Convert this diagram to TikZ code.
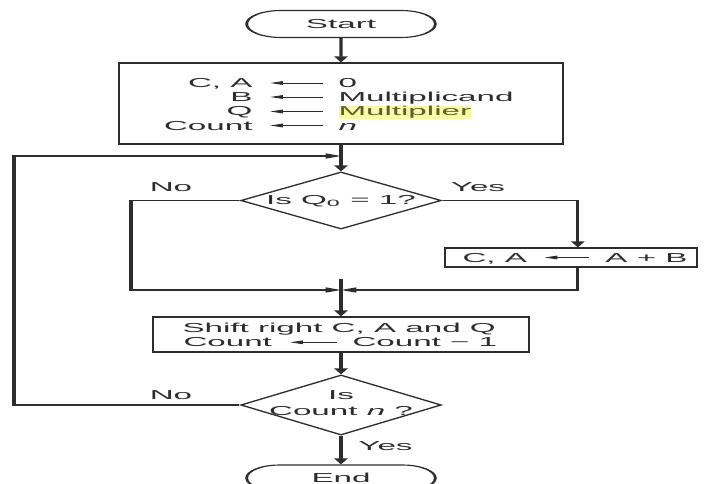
\documentclass[tikz,border=0pt]{standalone}
\usepackage{fontspec}
\setmainfont{Liberation Sans}
\usetikzlibrary{shapes.misc,shapes.geometric,arrows.meta}
\definecolor{ink}{RGB}{45,45,45}
\definecolor{hl}{RGB}{250,250,165}
\definecolor{hltext}{RGB}{95,95,35}
\tikzset{
  txt/.style={inner sep=0pt, text=ink, font=\fontsize{13}{14.5}\selectfont},
  flow/.style={draw=ink, line width=1.2pt},
  arr/.style={flow, -{Triangle[length=6pt,width=5pt]}},
  tarr/.style={draw=ink, line width=0.9pt, -{Triangle[length=5pt,width=3.6pt]}},
  terminal/.style={rounded rectangle, draw=ink, line width=1.1pt, minimum width=74pt, minimum height=27pt, inner sep=0pt, txt},
  procbox/.style={rectangle, draw=ink, line width=1.1pt, inner sep=0pt},
  decision/.style={diamond, draw=ink, line width=1.1pt, inner sep=0pt, minimum width=78.8pt, minimum height=57pt}
}
\begin{document}
\begin{tikzpicture}
\useasboundingbox[fill=white] (0pt,0pt) rectangle (706pt,-484pt);
\begin{scope}[x=0.392157pt, y=-1pt, transform canvas={xscale=2.55}]
% start
\node[terminal] (start) at (341,24) {Start};
% init box
\node[procbox, minimum width=174.1pt, minimum height=81pt] (init) at (341,103.5) {};
\node[txt, anchor=base east] (l1) at (253,87.5) {C, A};
\node[txt, anchor=base west] (r1) at (338,87.5) {0};
\node[txt, anchor=base east] (l2) at (253,101.5) {B};
\node[txt, anchor=base west] (r2) at (338,101.5) {Multiplicand};
\node[txt, anchor=base east] (l3) at (253,116) {Q};
\node[txt, anchor=base west, fill=hl, text=hltext, inner ysep=0.6pt] (r3) at (338,116) {Multiplier};
\node[txt, anchor=base east] (l4) at (253,130) {Count};
\node[txt, anchor=base west] (r4) at (338,130) {\textit{n}};
\foreach \i in {1,2,3,4}{
  \draw[tarr] ([shift={(-5.9pt,4.5pt)}]r\i.base west) -- ([shift={(6.7pt,4.5pt)}]l\i.base east);
}
\draw[arr] (start) -- (init);
% first decision
\coordinate (j1) at (341,156);
\node[decision] (d1) at (341,200.5) {};
\node[txt, anchor=base] (d1t) at (341,204) {Is Q\textsubscript{0} = 1?};
\draw[arr] (init.south) -- (d1.north);
\node[txt, anchor=base] (no1) at (171,191.5) {No};
\node[txt, anchor=base] (yes1) at (478,191.5) {Yes};
% add box
\node[procbox, minimum width=98.8pt, minimum height=19pt] (add) at (571,257.5) {};
\node[txt, anchor=base west] (al) at (462,262) {C, A};
\node[txt, anchor=base east] (ar) at (688,262) {A + B};
\draw[tarr] ([shift={(-6.3pt,4.5pt)}]ar.base west) -- ([shift={(6.7pt,4.5pt)}]al.base east);
% branches
\coordinate (lb) at (131,290);
\coordinate (j2) at (341,290);
\coordinate (j2top) at (341,279);
\draw[arr] (d1.west) -| (lb) -- (j2);
\draw[arr] (d1.east) -| ([xshift=2.7pt]add.north);
\draw[arr] ([xshift=2.7pt]add.south) |- (j2);
% shift box
\node[procbox, minimum width=147.5pt, minimum height=35pt] (shift) at (341,334.5) {};
\node[txt, anchor=base west] (s1) at (182,332.6) {Shift right C, A and Q};
\node[txt, anchor=base west] (s2l) at (183,346.8) {Count};
\node[txt, anchor=base west] (s2r) at (352,346.8) {Count − 1};
\draw[tarr] ([shift={(-5.9pt,4.5pt)}]s2r.base west) -- ([shift={(6.9pt,4.5pt)}]s2l.base east);
\draw[arr] (j2top) -- (shift.north);
% second decision
\node[decision, minimum height=60pt] (d2) at (341,405) {};
\node[txt, anchor=base] (d2a) at (341,399.5) {Is};
\node[txt, anchor=base] (d2b) at (341,415.5) {Count \textit{n} ?};
\draw[arr] (shift.south) -- (d2.north);
\node[txt, anchor=base] (no2) at (171,399.5) {No};
\coordinate (lp) at (14,156);
\draw[arr] (d2.west) -| (lp) -- (j1);
% end
\node[terminal, minimum height=26pt] (end) at (341,478) {End};
\node[txt, anchor=base] (yes2) at (385.5,450.5) {Yes};
\draw[arr] (d2.south) -- (end.north);
\end{scope}
\end{tikzpicture}
\end{document}
